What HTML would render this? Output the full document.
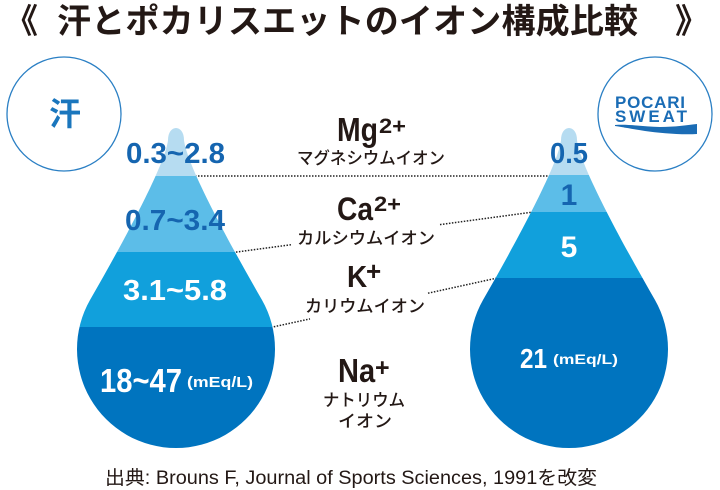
<!DOCTYPE html>
<html><head><meta charset="utf-8">
<style>
html,body{margin:0;padding:0;background:#fff;width:720px;height:490px;overflow:hidden}
svg{display:block}
.jp{font-family:"Liberation Sans","Noto Sans CJK JP",sans-serif}
.lat{font-family:"Liberation Sans","Noto Sans CJK JP",sans-serif}
</style></head>
<body>
<svg width="720" height="490" viewBox="0 0 720 490" xmlns="http://www.w3.org/2000/svg">
<defs>
<clipPath id="dl"><path d="M168,140 C168,124 184,124 184,140 C186,160 216,220 262,300 A99,99 0 1 1 90,300 C136,220 166,160 168,140 Z"/></clipPath>
<clipPath id="dr"><path d="M561,140 C561,124 577,124 577,140 C579,160 609,220 655,300 A99,99 0 1 1 483,300 C529,220 559,160 561,140 Z"/></clipPath>
</defs>

<!-- Title -->
<text class="jp" x="4" y="33" font-size="34" font-weight="bold" fill="#231815">《</text>
<text class="jp" x="57" y="33" font-size="34" font-weight="bold" fill="#231815" textLength="581" lengthAdjust="spacing">汗とポカリスエットのイオン構成比較</text>
<text class="jp" x="675" y="33" font-size="34" font-weight="bold" fill="#231815">》</text>

<!-- dotted lines -->
<g stroke="#222" stroke-width="1.5" stroke-dasharray="1.5 1.5" fill="none">
<line x1="180" y1="176" x2="565" y2="176"/>
<line x1="230" y1="252.9" x2="292" y2="244.6"/>
<line x1="440" y1="224.6" x2="540" y2="211.1"/>
<line x1="265" y1="328.7" x2="310" y2="318.9"/>
<line x1="428" y1="293.2" x2="500" y2="277.4"/>
</g>

<!-- Left drop -->
<g clip-path="url(#dl)">
<rect x="60" y="110" width="240" height="66" fill="#b6dcf1"/>
<rect x="60" y="176" width="240" height="76" fill="#5cbde8"/>
<rect x="60" y="252" width="240" height="75" fill="#11a0dc"/>
<rect x="60" y="327" width="240" height="140" fill="#0074bf"/>
</g>

<!-- Right drop -->
<g clip-path="url(#dr)">
<rect x="450" y="110" width="240" height="65" fill="#b6dcf1"/>
<rect x="450" y="175" width="240" height="37" fill="#5cbde8"/>
<rect x="450" y="212" width="240" height="66" fill="#11a0dc"/>
<rect x="450" y="278" width="240" height="190" fill="#0074bf"/>
</g>

<!-- Left drop labels -->
<g class="lat" font-weight="bold">
<text x="126" y="163" font-size="29" fill="#1565b0" textLength="99" lengthAdjust="spacingAndGlyphs">0.3~2.8</text>
<text x="125" y="230" font-size="29" fill="#1565b0" textLength="100" lengthAdjust="spacingAndGlyphs">0.7~3.4</text>
<text x="123" y="300" font-size="29" fill="#fff" textLength="104" lengthAdjust="spacingAndGlyphs">3.1~5.8</text>
<text x="100" y="392" font-size="33" fill="#fff" textLength="82" lengthAdjust="spacingAndGlyphs">18~47</text>
<text x="187" y="387" font-size="15" fill="#fff" textLength="66" lengthAdjust="spacingAndGlyphs">(mEq/L)</text>
</g>

<!-- Right drop labels -->
<g class="lat" font-weight="bold">
<text x="550" y="163" font-size="29" fill="#1565b0" textLength="38" lengthAdjust="spacingAndGlyphs">0.5</text>
<text x="569" y="205" font-size="30" fill="#1565b0" text-anchor="middle">1</text>
<text x="569" y="257" font-size="30" fill="#fff" text-anchor="middle">5</text>
<text x="520" y="368" font-size="28" fill="#fff" textLength="27" lengthAdjust="spacingAndGlyphs">21</text>
<text x="553" y="364" font-size="14" fill="#fff" textLength="65" lengthAdjust="spacingAndGlyphs">(mEq/L)</text>
</g>

<!-- Ion labels -->
<g class="lat" fill="#231815" font-weight="bold">
<text transform="translate(337,141) scale(0.86,1)" font-size="33">Mg</text>
<text x="379" y="133" font-size="21" textLength="27" lengthAdjust="spacingAndGlyphs">2+</text>
<text transform="translate(337,220) scale(0.88,1)" font-size="32">Ca</text>
<text x="374" y="211" font-size="21" textLength="27" lengthAdjust="spacingAndGlyphs">2+</text>
<text transform="translate(347,287) scale(0.9,1)" font-size="31">K</text>
<text x="366" y="280" font-size="26">+</text>
<text transform="translate(338,382) scale(0.88,1)" font-size="33">Na</text>
<text x="375" y="376" font-size="25">+</text>
</g>
<g class="jp" fill="#231815" font-size="17" font-weight="500">
<text x="297" y="164" textLength="148" lengthAdjust="spacingAndGlyphs">マグネシウムイオン</text>
<text x="297" y="244" textLength="138" lengthAdjust="spacingAndGlyphs">カルシウムイオン</text>
<text x="305" y="312" textLength="120" lengthAdjust="spacingAndGlyphs">カリウムイオン</text>
<text x="323" y="406" textLength="82" lengthAdjust="spacingAndGlyphs">ナトリウム</text>
<text x="338" y="427" textLength="54" lengthAdjust="spacingAndGlyphs">イオン</text>
</g>

<!-- Circles -->
<circle cx="64" cy="114" r="57" fill="none" stroke="#2a7fc4" stroke-width="1.3"/>
<text class="jp" x="65" y="125" font-size="32" font-weight="bold" fill="#1a76bd" text-anchor="middle">汗</text>

<circle cx="655" cy="114" r="57" fill="none" stroke="#2a7fc4" stroke-width="1.3"/>
<g class="lat" font-weight="bold" fill="#1a6cb5">
<text x="615" y="108" font-size="17" textLength="70" lengthAdjust="spacing">POCARI</text>
<text x="615" y="122" font-size="17" textLength="72" lengthAdjust="spacing">SWEAT</text>
</g>
<path d="M615,125 C630,124 645,127 660,127 C675,127 688,125 697,124 L697,134 C680,135 660,133 645,131 C632,129 622,127 615,126 Z" fill="#1a6cb5"/>

<!-- Footer -->
<text class="jp" x="105" y="484" font-size="19" fill="#231815" textLength="492" lengthAdjust="spacingAndGlyphs">出典: Brouns F, Journal of Sports Sciences, 1991を改変</text>
</svg>
</body></html>
